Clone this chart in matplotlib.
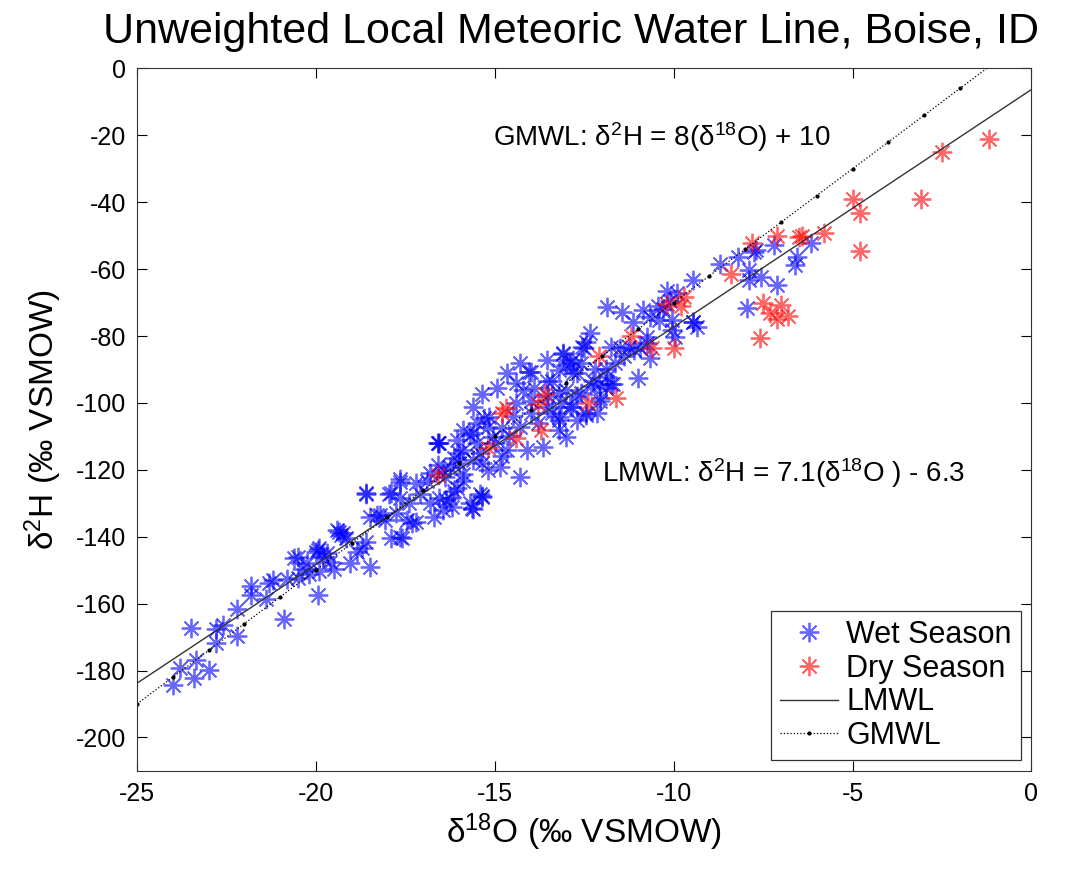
import numpy as np
import matplotlib
matplotlib.use('Agg')
import matplotlib.pyplot as plt

# isotope data (d18O, d2H in permil VSMOW)
wet_d18o = [-24.0, -23.4, -23.0, -23.8, -23.35, -23.5, -22.8, -22.8, -22.6, -22.2,
            -22.2, -21.8, -21.8, -21.4, -21.3, -21.2, -20.8, -20.9, -20.6, -20.5,
            -20.25, -19.95, -19.95, -19.8, -19.9, -19.6, -19.5, -19.3, -20.2, -20.4,
            -18.6, -15.6, -20.5, -20.0, -19.9, -19.7, -19.25, -19.4, -19.05, -18.85,
            -18.5, -18.6, -18.7, -18.5, -18.3, -18.07, -17.9, -17.65, -17.65, -17.65,
            -17.9, -17.75, -17.45, -17.2, -17.4, -16.9, -17.1, -16.8, -16.7, -16.45,
            -16.35, -16.6, -16.6, -16.25, -16.2, -16.05, -15.9, -15.65, -15.35, -16.0,
            -15.7, -15.5, -15.6, -15.35, -15.2, -15.9, -16.05, -16.25, -16.55, -15.35,
            -15.7, -14.3, -13.0, -13.2, -14.0, -13.1, -12.55, -13.9, -14.4, -13.4,
            -13.15, -12.85, -12.45, -12.15, -11.9, -11.7, -15.15, -15.05, -15.6, -15.9,
            -16.15, -16.45, -15.2, -14.85, -14.65, -14.1, -13.65, -14.3, -14.8, -15.5,
            -15.6, -15.35, -14.95, -14.65, -14.3, -13.55, -12.9, -12.8, -12.25, -12.05,
            -12.7, -13.2, -13.55, -14.0, -14.4, -15.9, -16.15, -16.55, -8.7, -9.45,
            -10.2, -9.9, -10.1, -10.45, -10.85, -10.65, -11.85, -11.45, -11.15, -10.4,
            -10.05, -9.45, -9.35, -10.05, -9.95, -10.75, -10.75, -10.95, -10.65, -11.1,
            -11.25, -11.5, -11.75, -11.65, -12.35, -12.45, -12.5, -13.1, -12.8, -13.0,
            -12.6, -13.2, -12.7, -13.55, -11.85, -12.1, -11.75, -11.0, -13.2, -12.7,
            -12.05, -12.9, -12.45, -13.2, -8.2, -7.9, -7.9, -7.55, -7.7, -7.2,
            -7.1, -6.55, -6.6, -6.15, -7.95, -9.45, -7.75, -14.05, -15.3, -16.6,
            -15.4, -18.6, -17.65, -17.95, -17.3, -17.6, -18.2, -19.35, -19.15, -14.5,
            -14.0, -13.5, -13.0, -12.6, -14.2, -15.0, -14.6, -15.4, -16.0, -16.8,
            -17.2, -16.4, -13.4, -12.3, -11.9, -14.8, -13.8, -12.2, -11.4, -10.3]
wet_d2h = [-184.2, -182.1, -179.7, -179.1, -177.0, -167.4, -171.9, -167.7, -166.5, -169.8,
           -161.7, -154.6, -157.5, -158.7, -153.7, -152.8, -152.5, -164.7, -146.5, -152.2,
           -148.0, -157.3, -144.1, -146.2, -150.1, -147.7, -149.5, -139.6, -151.0, -149.5,
           -127.1, -131.8, -146.2, -144.7, -143.5, -145.0, -139.0, -138.1, -148.0, -144.7,
           -149.2, -141.7, -143.5, -134.2, -133.6, -135.1, -140.5, -140.2, -123.5, -128.5,
           -126.8, -133.0, -135.1, -135.7, -130.0, -123.2, -127.1, -130.0, -134.2, -132.1,
           -129.1, -118.7, -112.1, -128.3, -131.2, -125.3, -121.1, -131.5, -128.0, -115.1,
           -109.7, -112.1, -117.2, -118.1, -107.3, -108.2, -111.2, -119.3, -112.1, -127.7,
           -130.0, -122.0, -110.3, -108.2, -90.9, -85.5, -83.4, -95.4, -93.9, -93.3,
           -99.9, -101.3, -103.7, -103.1, -95.4, -94.2, -104.3, -110.3, -109.1, -114.2,
           -116.6, -120.2, -120.2, -119.3, -114.2, -114.2, -113.3, -107.3, -107.6, -106.1,
           -101.3, -97.2, -95.4, -91.2, -88.2, -87.3, -88.2, -91.2, -93.3, -99.3,
           -105.2, -105.2, -101.3, -99.3, -100.1, -123.2, -126.2, -128.3, -58.6, -63.4,
           -66.4, -67.0, -69.4, -70.9, -72.3, -74.4, -71.4, -72.9, -75.9, -75.3,
           -75.3, -75.9, -77.4, -78.3, -80.4, -80.4, -82.2, -83.7, -86.7, -84.3,
           -83.4, -83.7, -83.4, -88.2, -79.2, -81.9, -83.7, -85.2, -87.3, -88.8,
           -88.2, -90.3, -91.2, -93.3, -92.4, -94.2, -94.2, -92.7, -96.9, -97.8,
           -98.4, -101.3, -103.1, -104.3, -56.5, -60.4, -63.4, -62.5, -54.4, -52.9,
           -64.6, -56.5, -58.9, -52.3, -71.7, -75.9, -55.0, -90.9, -104.6, -112.1,
           -127.1, -126.8, -122.6, -127.1, -136.0, -140.5, -133.6, -138.7, -140.5, -104.0,
           -103.0, -98.0, -96.0, -97.0, -96.0, -112.0, -110.0, -115.0, -118.0, -121.0,
           -124.0, -122.0, -103.0, -95.0, -90.0, -116.0, -106.0, -90.0, -86.0, -72.0]

dry_d18o = [-1.2, -2.5, -3.1, -5.0, -4.8, -5.8, -4.8, -6.4, -6.5, -7.1,
            -7.8, -8.4, -7.5, -7.0, -7.3, -6.8, -7.1, -7.6, -9.7, -10.2,
            -9.8, -11.2, -10.6, -10.0, -12.1, -13.6, -12.4, -11.6, -13.8, -14.7,
            -14.8, -13.7, -14.4, -15.2, -16.6]
dry_d2h = [-21.0, -25.0, -39.0, -39.0, -43.3, -49.3, -54.7, -50.0, -50.5, -50.0,
           -52.3, -61.6, -70.0, -70.6, -73.0, -74.1, -75.0, -80.5, -68.4, -70.3,
           -70.9, -80.1, -83.7, -83.7, -86.1, -97.2, -99.9, -98.4, -100.4, -101.6,
           -103.1, -108.2, -110.6, -113.6, -121.4]

lmwl = (7.1, -6.3)   # slope, intercept
gmwl = (8.0, 10.0)
line_x = np.arange(-25, 1)

plt.rcParams['font.family'] = 'Liberation Sans'
plt.rcParams['mathtext.fontset'] = 'custom'
plt.rcParams['mathtext.rm'] = 'Liberation Sans'
plt.rcParams['axes.unicode_minus'] = False

fig = plt.figure(figsize=(10.7, 8.77), dpi=100)
ax = fig.add_axes([0.128, 0.121, 0.836, 0.801])

star = (8, 2, 0)
ax.plot(wet_d18o, wet_d2h, linestyle='none', marker=star, ms=14, mew=1.3,
        color='blue', alpha=0.6, label='Wet Season')
ax.plot(dry_d18o, dry_d2h, linestyle='none', marker=star, ms=14, mew=1.3,
        color='red', alpha=0.6, label='Dry Season')
ax.plot(line_x, lmwl[0] * line_x + lmwl[1], '-', color='#333333', lw=1, label='LMWL')
ax.plot(line_x, gmwl[0] * line_x + gmwl[1], ':', color='black', lw=0.9,
        marker='.', ms=4, label='GMWL')

ax.text(-15.05, -20.6, r'GMWL: $\mathregular{δ^2}$H = 8($\mathregular{δ^{18}}$O) + 10',
        fontsize=20, va='center')
ax.text(-12.0, -121.0, r'LMWL: $\mathregular{δ^2}$H = 7.1($\mathregular{δ^{18}}$O ) - 6.3',
        fontsize=20, va='center')

ax.set_xlim(-25, 0)
ax.set_ylim(-210, 0)
ax.set_xticks(range(-25, 1, 5))
ax.set_yticks(range(-200, 1, 20))
ax.tick_params(direction='in', length=7, top=True, right=True, labelsize=18, pad=8)
for s in ax.spines.values():
    s.set_color('#333333')

ax.set_xlabel(r'$\mathregular{δ^{18}}$O (‰ VSMOW)', fontsize=24, labelpad=4)
ax.set_ylabel(r'$\mathregular{δ^2}$H (‰ VSMOW)', fontsize=24, labelpad=8)
ax.set_title('Unweighted Local Meteoric Water Line, Boise, ID', fontsize=31,
             pad=18, x=0.485)

leg = ax.legend(loc='lower right', fontsize=22, fancybox=False, framealpha=1,
                edgecolor='#333333', borderaxespad=0.35, handlelength=1.9,
                handletextpad=0.25, borderpad=0.3, labelspacing=0.12)
leg.get_frame().set_linewidth(0.9)

plt.savefig('out.png', dpi=100)
